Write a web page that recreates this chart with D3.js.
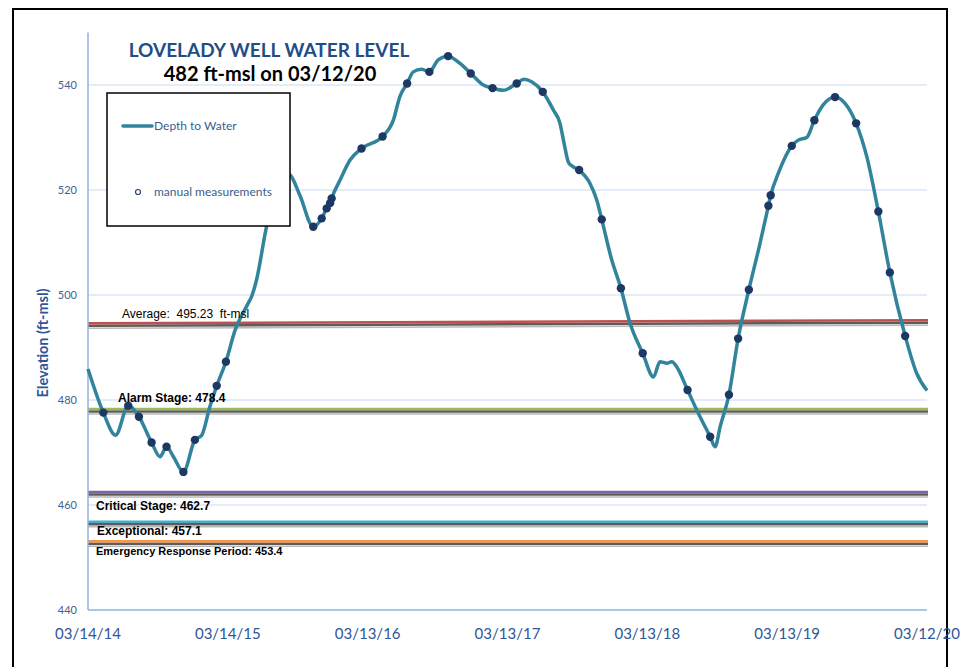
<!DOCTYPE html>
<html>
<head>
<meta charset="utf-8">
<script src="https://cdn.jsdelivr.net/npm/d3@7"></script>
<style>
  body { margin: 0; background: #fff; }
  svg { display: block; }
</style>
</head>
<body>
<div id="root"></div>
<script>
// x axis ticks (dates) and their printed labels
const tickDates = ["2014-03-14", "2015-03-14", "2016-03-13", "2017-03-13", "2018-03-13", "2019-03-13", "2020-03-12"];
const tickLabels = ["03/14/14", "03/14/15", "03/13/16", "03/13/17", "03/13/18", "03/13/19", "03/12/20"];
const yTicks = [440, 460, 480, 500, 520, 540];

// continuous recorder: depth to water (elevation, ft-msl)
const levels = [
    ["2014-03-14", 485.9], ["2014-04-23", 477.6], ["2014-05-25", 473.3], ["2014-06-27", 478.9],
    ["2014-07-25", 476.8], ["2014-08-27", 471.9], ["2014-09-18", 469.2], ["2014-10-05", 471.1],
    ["2014-10-23", 469.2], ["2014-11-18", 466.3], ["2014-12-18", 472.4], ["2015-01-05", 473.3],
    ["2015-01-26", 478.7], ["2015-02-13", 482.7], ["2015-03-09", 487.3], ["2015-04-02", 493.3],
    ["2015-05-06", 498.4], ["2015-05-15", 499.7], ["2015-05-28", 502.9], ["2015-06-23", 513.0],
    ["2015-07-18", 519.5], ["2015-08-08", 523.3], ["2015-08-23", 522.9], ["2015-09-18", 519.0],
    ["2015-10-23", 513.0], ["2015-11-14", 514.6], ["2015-11-27", 516.5], ["2015-12-06", 517.5],
    ["2015-12-10", 518.4], ["2016-01-01", 521.9], ["2016-01-27", 525.7], ["2016-02-26", 527.9],
    ["2016-04-21", 530.2], ["2016-05-19", 533.3], ["2016-06-05", 537.8], ["2016-06-24", 540.3],
    ["2016-07-10", 542.5], ["2016-08-01", 543.0], ["2016-08-21", 542.5], ["2016-09-13", 544.8],
    ["2016-10-09", 545.5], ["2016-11-09", 544.1], ["2016-12-07", 542.2], ["2017-01-09", 540.0],
    ["2017-02-02", 539.4], ["2017-03-02", 539.0], ["2017-04-06", 540.3], ["2017-04-25", 541.1],
    ["2017-05-15", 540.6], ["2017-06-13", 538.7], ["2017-07-11", 535.2], ["2017-07-28", 532.7],
    ["2017-08-06", 529.5], ["2017-08-19", 525.3], ["2017-08-28", 524.6], ["2017-09-16", 523.8],
    ["2017-10-14", 521.3], ["2017-11-01", 518.1], ["2017-11-14", 514.4], ["2017-12-10", 506.7],
    ["2018-01-03", 501.3], ["2018-01-27", 494.6], ["2018-03-01", 488.9], ["2018-03-29", 484.4],
    ["2018-04-15", 487.3], ["2018-05-03", 487.0], ["2018-05-16", 487.3], ["2018-05-29", 486.3],
    ["2018-06-26", 481.9], ["2018-07-20", 478.1], ["2018-08-24", 473.0], ["2018-09-06", 471.1],
    ["2018-09-19", 474.9], ["2018-10-12", 481.0], ["2018-11-05", 491.7], ["2018-12-03", 501.0],
    ["2019-01-01", 509.8], ["2019-01-23", 517.0], ["2019-01-29", 519.0], ["2019-02-18", 523.2],
    ["2019-03-25", 528.4], ["2019-04-11", 529.5], ["2019-05-03", 530.0], ["2019-05-23", 533.3],
    ["2019-06-15", 536.2], ["2019-07-16", 537.7], ["2019-08-11", 536.5], ["2019-09-09", 532.7],
    ["2019-10-07", 526.3], ["2019-11-06", 515.9], ["2019-12-06", 504.3], ["2020-01-15", 492.2],
    ["2020-02-14", 485.1], ["2020-03-12", 481.8]
];

// manual measurements
const manual = [
    ["2014-04-23", 477.6], ["2014-06-27", 478.9], ["2014-07-25", 476.8], ["2014-08-27", 471.9],
    ["2014-10-05", 471.1], ["2014-11-18", 466.3], ["2014-12-18", 472.4], ["2015-02-13", 482.7],
    ["2015-03-09", 487.3], ["2015-10-23", 513.0], ["2015-11-14", 514.6], ["2015-11-27", 516.5],
    ["2015-12-06", 517.5], ["2015-12-10", 518.4], ["2016-02-26", 527.9], ["2016-04-21", 530.2],
    ["2016-06-24", 540.3], ["2016-08-21", 542.5], ["2016-10-09", 545.5], ["2016-12-07", 542.2],
    ["2017-02-02", 539.4], ["2017-04-06", 540.3], ["2017-06-13", 538.7], ["2017-09-16", 523.8],
    ["2017-11-14", 514.4], ["2018-01-03", 501.3], ["2018-03-01", 488.9], ["2018-06-26", 481.9],
    ["2018-08-24", 473.0], ["2018-10-12", 481.0], ["2018-11-05", 491.7], ["2018-12-03", 501.0],
    ["2019-01-23", 517.0], ["2019-01-29", 519.0], ["2019-03-25", 528.4], ["2019-05-23", 533.3],
    ["2019-07-16", 537.7], ["2019-09-09", 532.7], ["2019-11-06", 515.9], ["2019-12-06", 504.3],
    ["2020-01-15", 492.2]
];

// stage lines: label and level at the left / right end
const refNames = ["Average:  495.23  ft-msl", "Alarm Stage: 478.4", "Critical Stage: 462.7",
    "Exceptional: 457.1", "Emergency Response Period: 453.4"];
const refLevels = [[494.6, 495.2], [478.3, 478.3], [462.5, 462.5], [456.8, 456.8], [453.1, 453.1]];

// styles for the stage lines, same order as above
const refColors = ["#c0504d", "#9bbb59", "#8064a2", "#4bacc6", "#f79646"];
const refLabelPos = [
    {x: 122, dy: -5, weight: "normal", size: 12},
    {x: 118, dy: -7, weight: "bold", size: 12},
    {x: 96, dy: 18, weight: "bold", size: 12},
    {x: 97, dy: 13, weight: "bold", size: 12},
    {x: 96, dy: 14, weight: "bold", size: 11}
];

const parse = d3.timeParse("%Y-%m-%d");
const W = 960, H = 667;

const x = d3.scaleTime()
    .domain([parse(tickDates[0]), parse(tickDates[tickDates.length - 1])])
    .range([88, 927]);
const y = d3.scaleLinear()
    .domain([440, 550])
    .range([610, 32.5]);

const svg = d3.select("#root").append("svg")
    .attr("width", W)
    .attr("height", H);

let defs = svg.append("defs");
defs.append("filter").attr("id", "soft")
    .append("feGaussianBlur").attr("stdDeviation", 0.6);

// outer frame
svg.append("rect")
    .attr("x", 13).attr("y", 9)
    .attr("width", 934).attr("height", 700)
    .attr("fill", "#fff")
    .attr("stroke", "#000")
    .attr("stroke-width", 2);

// gridlines
svg.append("g")
    .selectAll("line")
    .data(yTicks.filter(v => v > 440))
    .join("line")
    .attr("x1", 88).attr("x2", 927)
    .attr("y1", d => y(d)).attr("y2", d => y(d))
    .attr("stroke", "#c9daf0")
    .attr("stroke-width", 1.2);

// y tick labels
svg.append("g")
    .selectAll("text")
    .data(yTicks)
    .join("text")
    .attr("x", 77)
    .attr("y", d => y(d))
    .attr("dy", "0.35em")
    .attr("text-anchor", "end")
    .attr("font-family", "Lato, 'Open Sans', sans-serif")
    .attr("font-size", 11)
    .attr("fill", "#44618f")
    .text(d => d);

// x tick labels
svg.append("g")
    .selectAll("text")
    .data(tickDates)
    .join("text")
    .attr("x", d => x(parse(d)))
    .attr("y", 639)
    .attr("text-anchor", "middle")
    .attr("font-family", "Lato, 'Open Sans', sans-serif")
    .attr("font-size", 15)
    .attr("fill", "#2f5597")
    .text((d, i) => tickLabels[i]);

// stage lines with their grey shadow
let refs = svg.append("g");
refLevels.forEach((lv, i) => {
    refs.append("line")
        .attr("x1", 88).attr("x2", 928)
        .attr("y1", y(lv[0]) + 5).attr("y2", y(lv[1]) + 5)
        .attr("stroke", "#b8b8b8")
        .attr("stroke-width", 1.5);
    refs.append("line")
        .attr("x1", 88).attr("x2", 928)
        .attr("y1", y(lv[0]) + 2.5).attr("y2", y(lv[1]) + 2.5)
        .attr("stroke", "#5c5c5c")
        .attr("stroke-width", 2.5);
    refs.append("line")
        .attr("x1", 88).attr("x2", 928)
        .attr("y1", y(lv[0])).attr("y2", y(lv[1]))
        .attr("stroke", refColors[i])
        .attr("stroke-width", 2.5);
});

// axis lines
svg.append("line")
    .attr("x1", 88).attr("x2", 88)
    .attr("y1", y(550)).attr("y2", y(440))
    .attr("stroke", "#8eb4e3")
    .attr("stroke-width", 1.5);
svg.append("line")
    .attr("x1", 88).attr("x2", 927)
    .attr("y1", y(440)).attr("y2", y(440))
    .attr("stroke", "#8eb4e3")
    .attr("stroke-width", 1.5);

// water level line
let line = d3.line()
    .x(d => x(parse(d[0])))
    .y(d => y(d[1]))
    .curve(d3.curveMonotoneX);

svg.append("path")
    .datum(levels)
    .attr("d", line)
    .attr("fill", "none")
    .attr("stroke", "#31849b")
    .attr("stroke-width", 3.5)
    .attr("stroke-linejoin", "round");

// manual measurement dots
svg.append("g")
    .attr("filter", "url(#soft)")
    .selectAll("circle")
    .data(manual)
    .join("circle")
    .attr("cx", d => x(parse(d[0])))
    .attr("cy", d => y(d[1]))
    .attr("r", 4.2)
    .attr("fill", "#1f3864");

// stage labels
svg.append("g")
    .selectAll("text")
    .data(refNames)
    .join("text")
    .attr("x", (d, i) => refLabelPos[i].x)
    .attr("y", (d, i) => y(refLevels[i][0]) + refLabelPos[i].dy)
    .attr("font-family", "'Liberation Sans', Arial, sans-serif")
    .attr("font-size", (d, i) => refLabelPos[i].size)
    .attr("font-weight", (d, i) => refLabelPos[i].weight)
    .attr("fill", "#000")
    .style("white-space", "pre")
    .text(d => d);

// legend box (covers the line behind it)
let legend = svg.append("g");
legend.append("rect")
    .attr("x", 107).attr("y", 93)
    .attr("width", 183).attr("height", 133)
    .attr("fill", "#fff")
    .attr("stroke", "#000")
    .attr("stroke-width", 1.5);
legend.append("line")
    .attr("x1", 123).attr("x2", 152)
    .attr("y1", 126).attr("y2", 126)
    .attr("stroke", "#31849b")
    .attr("stroke-width", 3.5)
    .attr("stroke-linecap", "round");
legend.append("text")
    .attr("x", 154).attr("y", 130)
    .attr("font-family", "Lato, 'Open Sans', sans-serif")
    .attr("font-size", 12)
    .attr("fill", "#3b5e8c")
    .text("Depth to Water");
legend.append("circle")
    .attr("cx", 138).attr("cy", 192)
    .attr("r", 2.5)
    .attr("fill", "#fff")
    .attr("stroke", "#2a4470")
    .attr("stroke-width", 1.2);
legend.append("text")
    .attr("x", 154).attr("y", 196)
    .attr("font-family", "Lato, 'Open Sans', sans-serif")
    .attr("font-size", 12)
    .attr("fill", "#3b5e8c")
    .text("manual measurements");

// titles
svg.append("text")
    .attr("x", 269).attr("y", 57)
    .attr("text-anchor", "middle")
    .attr("font-family", "Lato, 'Open Sans', sans-serif")
    .attr("font-weight", "bold")
    .attr("font-size", 19)
    .attr("fill", "#1f4e86")
    .text("LOVELADY WELL WATER LEVEL");
svg.append("text")
    .attr("x", 270).attr("y", 81)
    .attr("text-anchor", "middle")
    .attr("font-family", "Lato, 'Open Sans', sans-serif")
    .attr("font-weight", "bold")
    .attr("font-size", 20)
    .attr("fill", "#000")
    .text("482 ft-msl  on 03/12/20");

// y axis title
svg.append("text")
    .attr("transform", "translate(48,343) rotate(-90)")
    .attr("text-anchor", "middle")
    .attr("font-family", "Lato, 'Open Sans', sans-serif")
    .attr("font-weight", "bold")
    .attr("font-size", 14.5)
    .attr("fill", "#2f5597")
    .text("Elevation (ft-msl)");
</script>
</body>
</html>
